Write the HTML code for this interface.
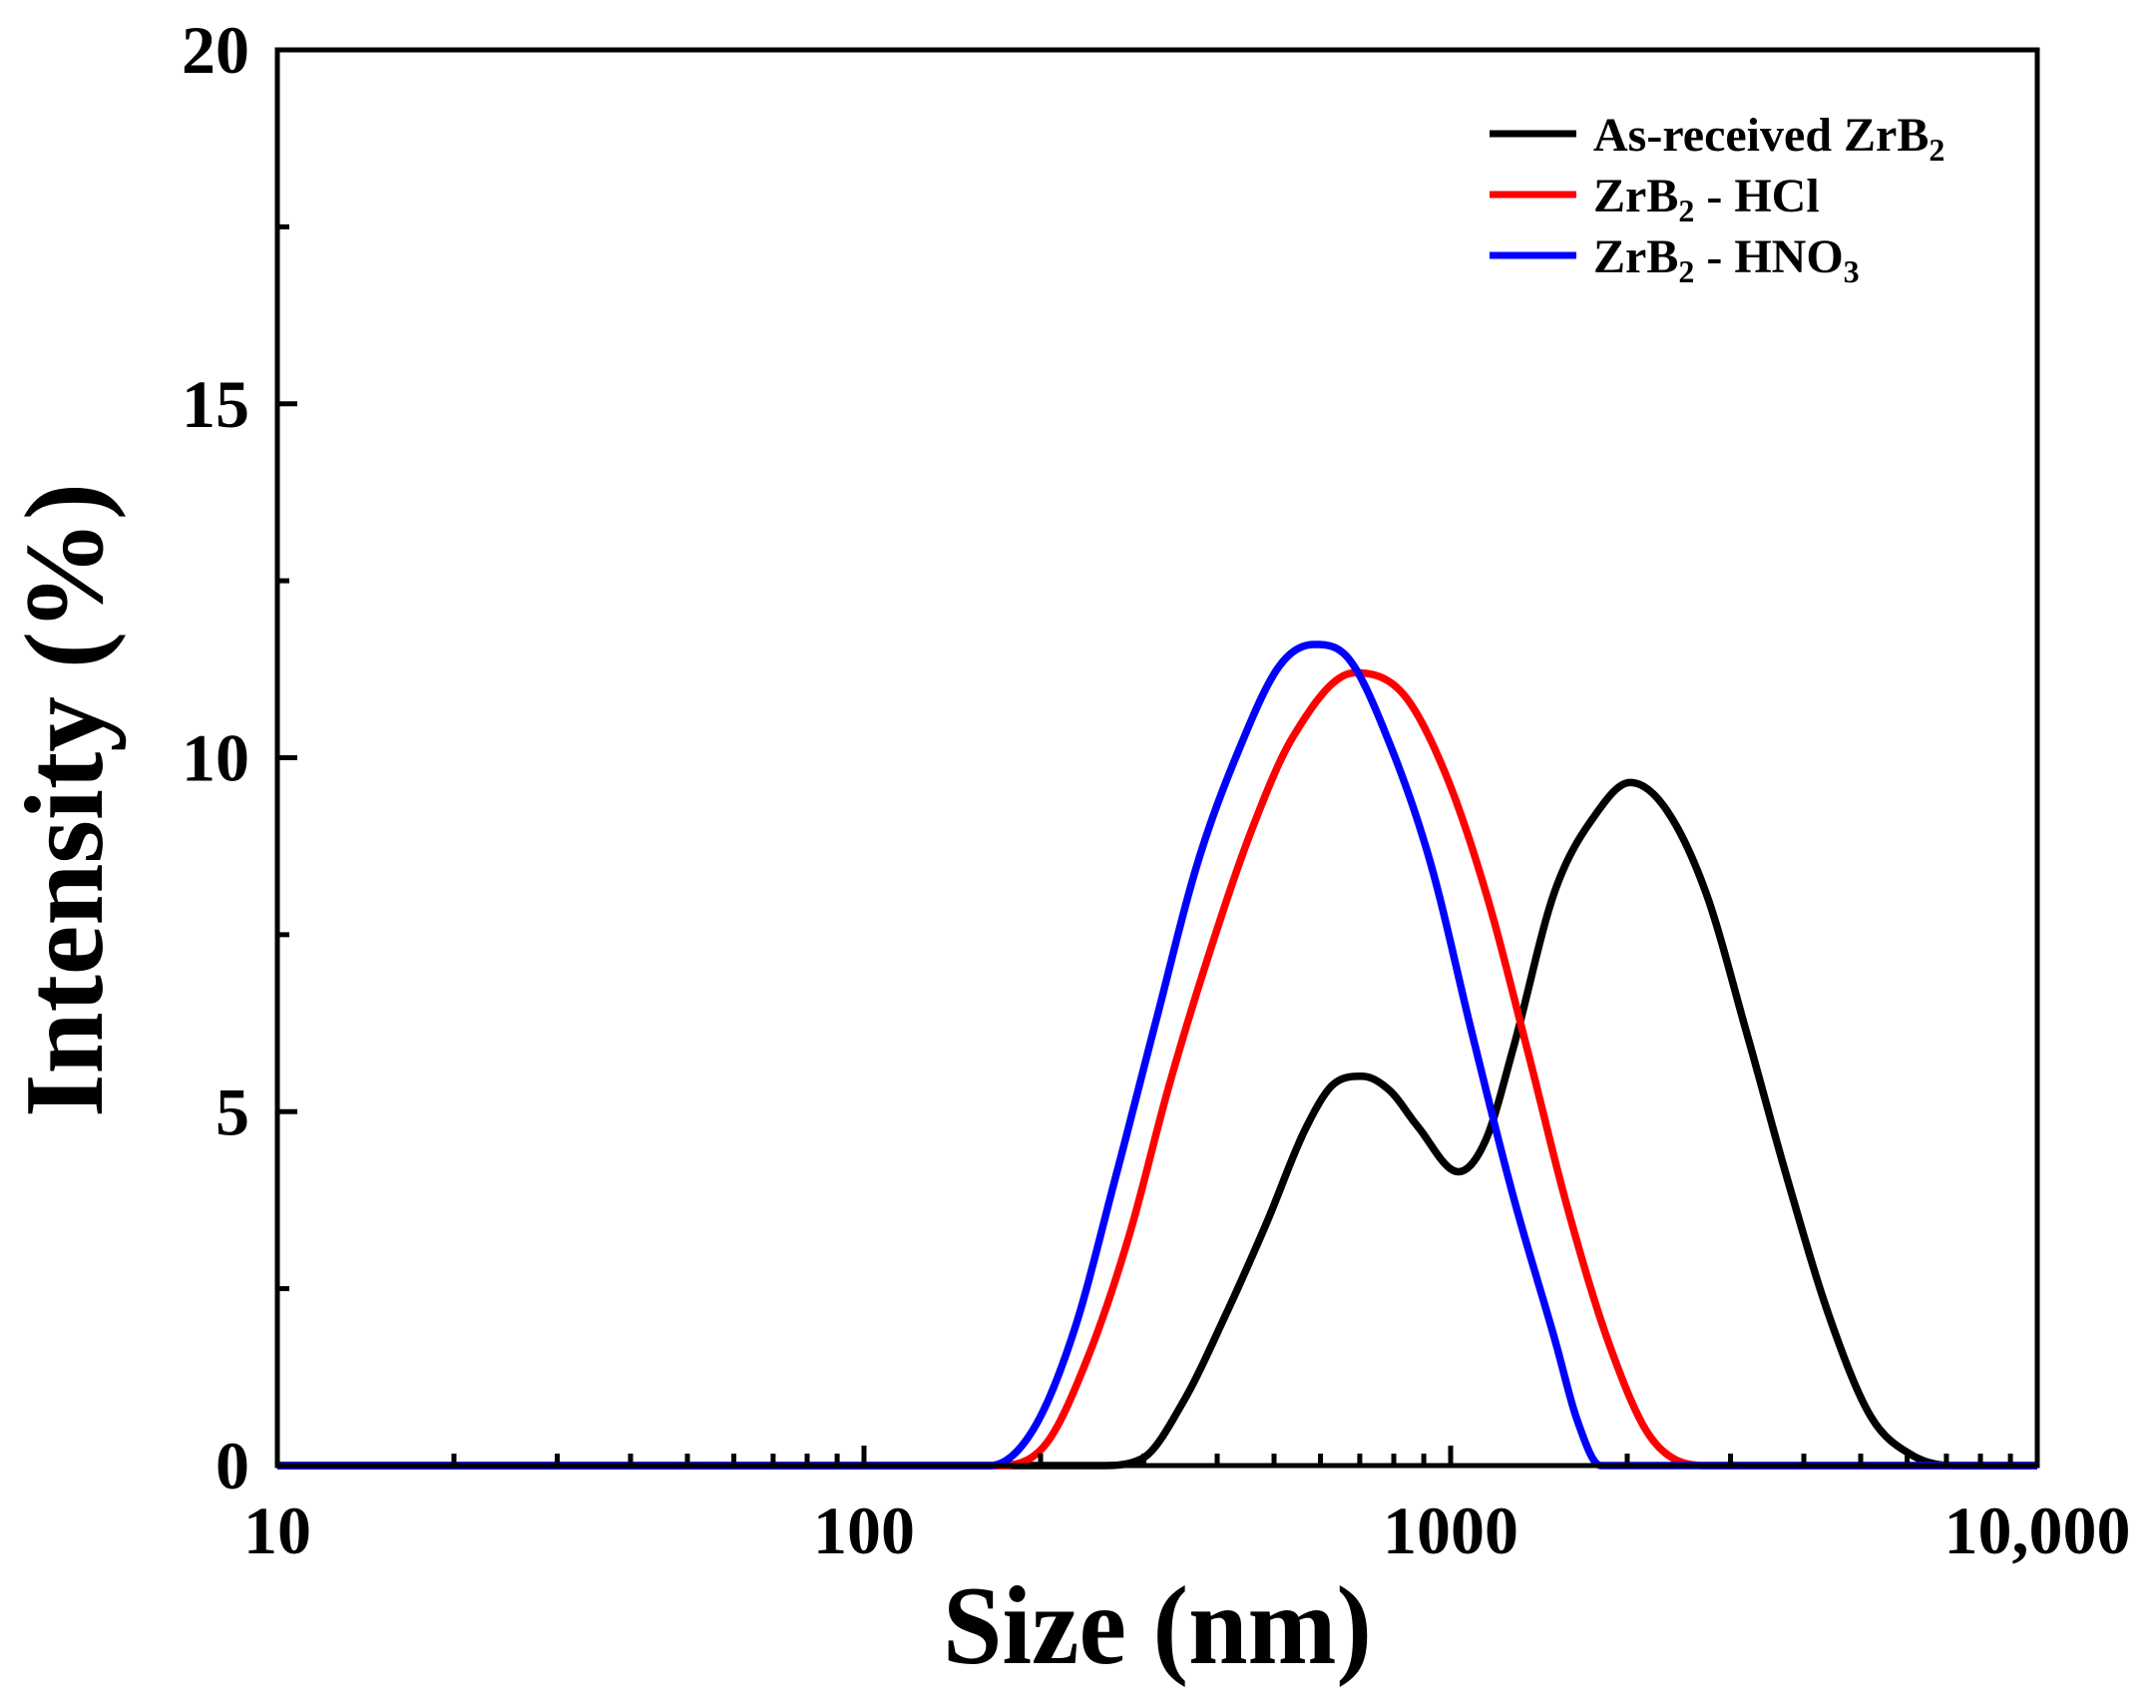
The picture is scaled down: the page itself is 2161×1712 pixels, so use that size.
<!DOCTYPE html>
<html><head><meta charset="utf-8"><style>
html,body{margin:0;padding:0;background:#fff}
svg{display:block}
text{font-family:"Liberation Serif",serif;font-weight:bold;fill:#000}
</style></head><body>
<svg id="chart" width="2161" height="1712" viewBox="0 0 2161 1712" xmlns="http://www.w3.org/2000/svg">
<g id="plot"></g>
<g id="axes"></g>
<g id="legend"></g>
</svg>
<script>
const sizesBlack = [10,253,298,350,412,484,569,634,706,787,877,1031,1148,1279,1503,1767,2023,2316,2722,3199,3764,4423,5197,6108,7190,10000];
const valuesBlack = [0,0,0.1,0.9,2.1,3.4,4.8,5.4,5.5,5.3,4.8,4.15,4.6,5.9,8.1,9.2,9.65,9.3,8.1,6.1,4.0,2.1,0.7,0.15,0,0];
const sizesRed = [10,169,204,240,282,332,390,459,539,687,830,977,1148,1349,1587,1866,2193,2722,10000];
const valuesRed = [0,0,0.3,1.5,3.2,5.4,7.3,9.0,10.3,11.2,10.9,9.8,8.1,5.9,3.6,1.7,0.4,0,0];
const sizesBlue = [10,164,194,228,267,315,370,435,511,585,670,787,925,1088,1279,1503,1650,1800,10000];
const valuesBlue = [0,0,0.5,1.9,4.0,6.3,8.5,10.1,11.3,11.6,11.4,10.2,8.5,6.1,3.8,1.8,0.6,0,0];
const yTicks = [0,5,10,15,20];
const yTickLabels = ["0","5","10","15","20"];
const xTicks = [10,100,1000,10000];
const xTickLabels = ["10","100","1000","10,000"];
const legendLabels = ["As-received ZrB","ZrB","ZrB"];

const NS="http://www.w3.org/2000/svg";
const L=278,R=2042,T=50,B=1469;
function xs(v){return L+(Math.log10(v)-1)/3*(R-L);}
function ys(v){return B-v/20*(B-T);}
function mk(tag,attrs,parent){const e=document.createElementNS(NS,tag);for(const k in attrs)e.setAttribute(k,attrs[k]);parent.appendChild(e);return e;}
const plot=document.getElementById('plot'),axes=document.getElementById('axes'),legend=document.getElementById('legend');

function monoPath(sx,vy){
  const X=sx.map(s=>Math.log10(s)),Y=vy.slice(),n=X.length;
  const d=[],m=new Array(n);
  for(let i=0;i<n-1;i++)d.push((Y[i+1]-Y[i])/(X[i+1]-X[i]));
  m[0]=d[0];m[n-1]=d[n-2];
  for(let i=1;i<n-1;i++){m[i]=(d[i-1]*d[i]<=0)?0:(d[i-1]+d[i])/2;}
  for(let i=0;i<n-1;i++){
    if(d[i]===0){m[i]=0;m[i+1]=0;continue;}
    const a=m[i]/d[i],b=m[i+1]/d[i],s=a*a+b*b;
    if(s>9){const t=3/Math.sqrt(s);m[i]=t*a*d[i];m[i+1]=t*b*d[i];}
  }
  let path="M"+xs(sx[0]).toFixed(2)+","+ys(Y[0]).toFixed(2);
  for(let i=0;i<n-1;i++){
    const h=X[i+1]-X[i],steps=Math.max(2,Math.round(h*200));
    for(let k=1;k<=steps;k++){
      const t=k/steps,t2=t*t,t3=t2*t;
      const y=(2*t3-3*t2+1)*Y[i]+(t3-2*t2+t)*h*m[i]+(-2*t3+3*t2)*Y[i+1]+(t3-t2)*h*m[i+1];
      const x=X[i]+t*h;
      path+=" L"+(L+(x-1)/3*(R-L)).toFixed(2)+","+ys(Math.max(0,y)).toFixed(2);
    }
  }
  return path;
}
const series=[[sizesBlack,valuesBlack,'#000','series-as-received'],[sizesRed,valuesRed,'#ff0000','series-hcl'],[sizesBlue,valuesBlue,'#0000ff','series-hno3']];
series.forEach(s=>{
  const el=mk('path',{d:monoPath(s[0],s[1]),fill:'none',stroke:s[2],'stroke-width':7.5,'stroke-linejoin':'round'},plot);
  
  
});

const fr=mk('rect',{x:L,y:T,width:R-L,height:B-T,fill:'none',stroke:'#000','stroke-width':5},axes);



yTicks.forEach((v,i)=>{
  mk('line',{x1:L,x2:L+20,y1:ys(v),y2:ys(v),stroke:'#000','stroke-width':5},axes);
  const t=mk('text',{x:250,y:ys(v)+23,'text-anchor':'end','font-size':68},axes);
  t.textContent=yTickLabels[i];
  
  
  if(i<yTicks.length-1) mk('line',{x1:L,x2:L+12,y1:ys(v+2.5),y2:ys(v+2.5),stroke:'#000','stroke-width':5},axes);
});
xTicks.forEach((v,i)=>{
  mk('line',{x1:xs(v),x2:xs(v),y1:B,y2:B-20,stroke:'#000','stroke-width':5},axes);
  const t=mk('text',{x:xs(v),y:1557,'text-anchor':'middle','font-size':68},axes);
  t.textContent=xTickLabels[i];
  
  
  if(i<xTicks.length-1){for(let m=2;m<=9;m++){const x=xs(v*m);mk('line',{x1:x,x2:x,y1:B,y2:B-12,stroke:'#000','stroke-width':5},axes);}}
});
const xt=mk('text',{x:1160,y:1667,'text-anchor':'middle','font-size':112,textLength:430,lengthAdjust:'spacingAndGlyphs'},axes);
xt.textContent='Size (nm)';


const yt=mk('text',{x:0,y:0,'text-anchor':'middle','font-size':112,transform:'translate(102,802) rotate(-90)',textLength:636,lengthAdjust:'spacingAndGlyphs'},axes);
yt.textContent='Intensity (%)';



const legY=[134,195,256],legC=['#000','#ff0000','#0000ff'],legSub=['2','2','2'],legTail=['',' - HCl',' - HNO'],legTail2=['','','3'];
legY.forEach((y,i)=>{
  const g=mk('g',{},legend);
  
  
  mk('line',{x1:1493,x2:1580,y1:y,y2:y,stroke:legC[i],'stroke-width':7},g);
  const t=mk('text',{x:1597,y:y+17,'font-size':48},g);
  t.appendChild(document.createTextNode(legendLabels[i]));
  const s=mk('tspan',{dy:10,'font-size':32},t);s.textContent=legSub[i];
  if(legTail[i]){const s2=mk('tspan',{dy:-10},t);s2.textContent=legTail[i];
    if(legTail2[i]){const s3=mk('tspan',{dy:10,'font-size':32},t);s3.textContent=legTail2[i];}}
});
</script>
</body></html>
